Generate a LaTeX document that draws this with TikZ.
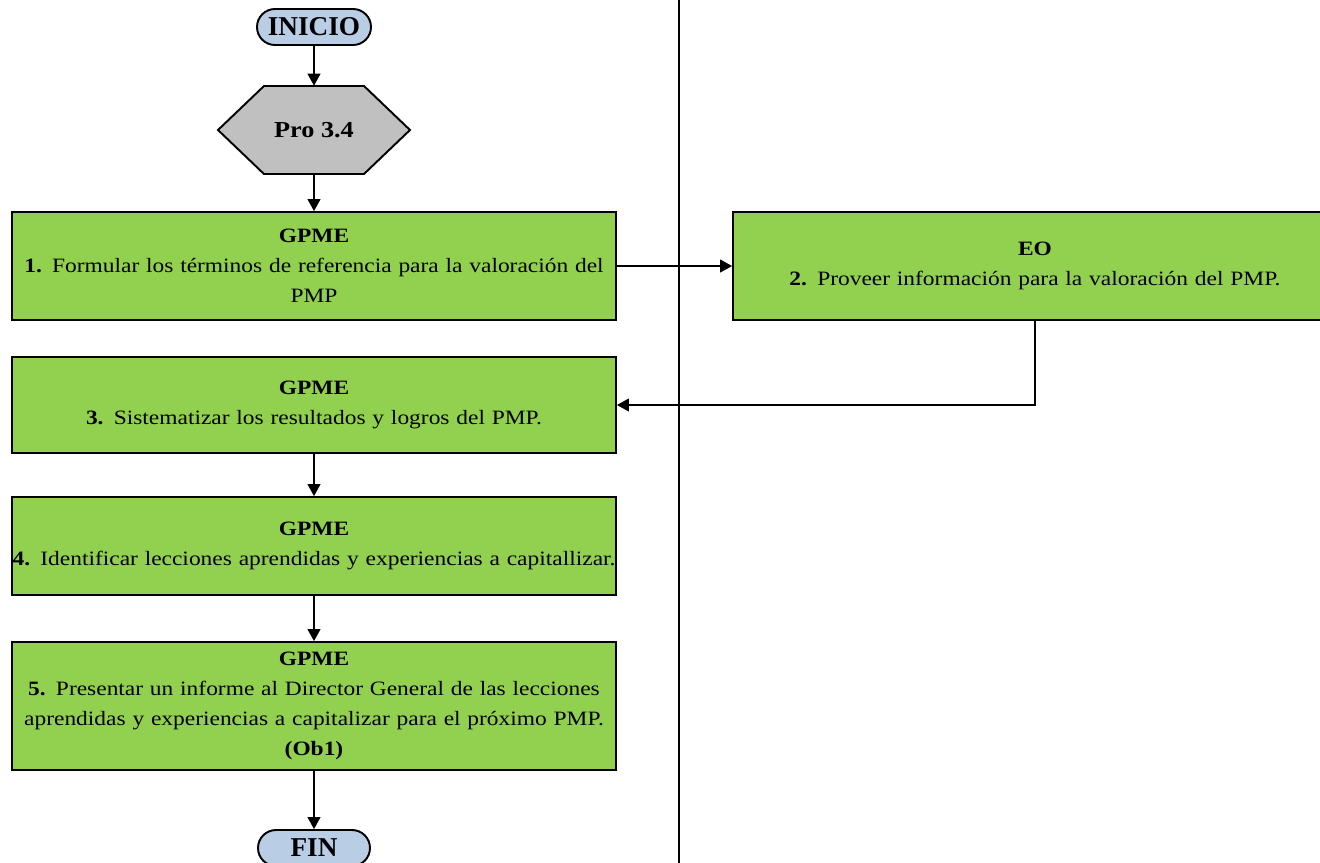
\documentclass[tikz,border=0pt]{standalone}
\usepackage{fontspec}
\setmainfont[FakeStretch=1.15]{Liberation Serif}
\newfontfamily\termfont{Liberation Serif}
\usetikzlibrary{arrows.meta}
\definecolor{gcol}{HTML}{92D050}
\definecolor{bcol}{HTML}{B9CDE5}
\definecolor{hcol}{HTML}{C0C0C0}

\begin{document}
\begin{tikzpicture}[>={Triangle[length=2.4mm, width=2.6mm]},
  actbox/.style={draw, line width=1.1pt, fill=gcol, text width=12.08cm, inner sep=0pt, align=center, font=\fontsize{11.6}{17}\selectfont},
  term/.style={draw, line width=1.1pt, fill=bcol, rounded corners=0.36cm, minimum height=0.72cm, inner sep=0pt, font=\termfont\fontsize{15.5}{16}\selectfont\bfseries},
  link/.style={->, line width=0.6pt}]
\useasboundingbox (0,0) rectangle (26.4,-17.26);
\draw[line width=1.7pt] (13.58,0) -- (13.58,-17.26);
\node[term, minimum width=2.28cm] (inicio) at (6.28,-0.54) {INICIO};
\path[draw, line width=1.1pt, fill=hcol] (6.28,-2.60) ++(-1.92,0) -- ++(0.92,0.88) -- ++(2.0,0) -- ++(0.92,-0.88) -- ++(-0.92,-0.88) -- ++(-2.0,0) -- cycle;
\node[minimum width=3.84cm, minimum height=1.76cm, inner sep=0pt, font=\fontsize{13}{14}\selectfont\bfseries] (pro) at (6.28,-2.60) {Pro 3.4};
\node[actbox, minimum height=2.16cm] (act1) at (6.28,-5.32) {\textbf{GPME}\\\textbf{1.} Formular los términos de referencia para la valoración del\\PMP};
\node[actbox, minimum height=2.16cm] (act2) at (20.70,-5.32) {\textbf{EO}\\\textbf{2.} Proveer información para la valoración del PMP.};
\node[actbox, minimum height=1.92cm] (act3) at (6.28,-8.10) {\textbf{GPME}\\\textbf{3.} Sistematizar los resultados y logros del PMP.};
\node[actbox, minimum height=1.96cm] (act4) at (6.28,-10.92) {\textbf{GPME}\\\makebox[\linewidth]{\textbf{4.} Identificar lecciones aprendidas y experiencias a capitallizar.}};
\node[actbox, minimum height=2.56cm] (act5) at (6.28,-14.12) {\textbf{GPME}\\\textbf{5.} Presentar un informe al Director General de las lecciones\\aprendidas y experiencias a capitalizar para el próximo PMP.\\\textbf{(Ob1)}};
\node[term, minimum width=2.24cm] (fin) at (6.28,-16.96) {FIN};
\draw[link] (inicio) -- (pro);
\draw[link] (pro) -- (act1);
\draw[link] (act1) -- (act2);
\draw[link] (act2.south) |- (act3.east);
\draw[link] (act3) -- (act4);
\draw[link] (act4) -- (act5);
\draw[link] (act5) -- (fin);
\end{tikzpicture}
\end{document}
